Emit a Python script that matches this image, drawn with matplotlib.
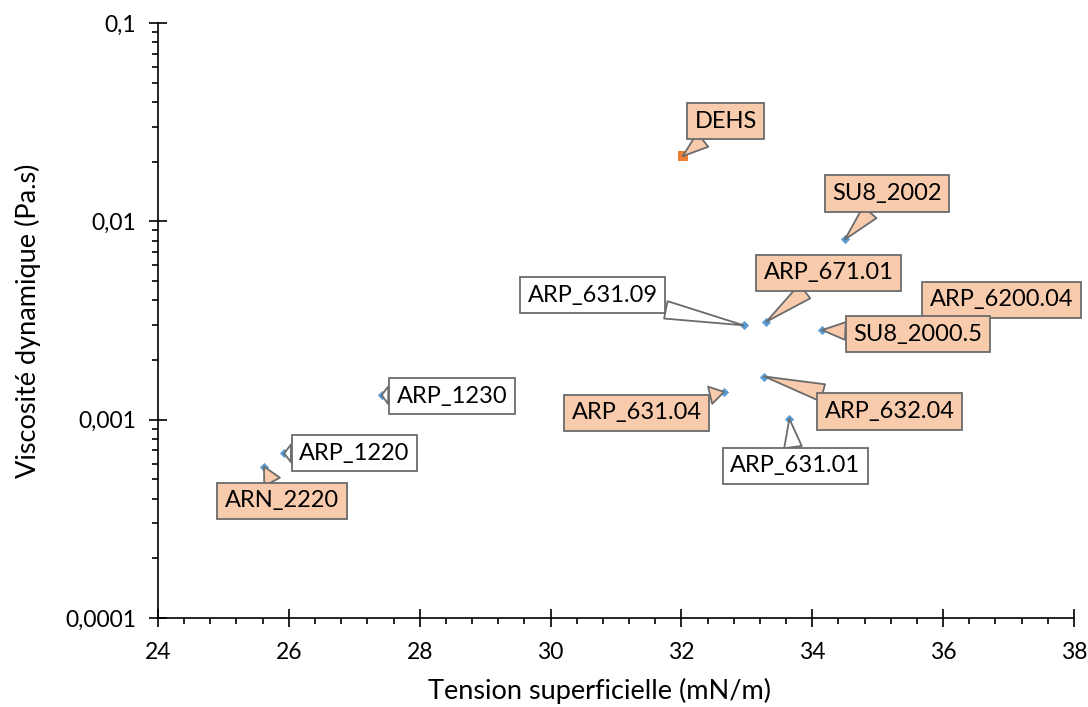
import matplotlib
matplotlib.use("Agg")
import matplotlib.pyplot as plt
from matplotlib.ticker import MultipleLocator, LogLocator, NullFormatter, FixedLocator, FixedFormatter

plt.rcParams['font.family'] = ['Lato', 'DejaVu Sans']

# données : tension superficielle (mN/m) et viscosité dynamique (Pa.s)
noms = ['ARP_1230', 'ARP_1220', 'ARN_2220', 'ARP_631.09', 'ARP_671.01', 'SU8_2002',
        'ARP_6200.04', 'SU8_2000.5', 'ARP_631.04', 'ARP_632.04', 'ARP_631.01']
tension = [27.42, 25.93, 25.62, 32.95, 33.30, 34.50, 35.55, 34.15, 32.65, 33.27, 33.65]
viscosite = [0.00133, 0.000676, 0.00058, 0.00299, 0.00312, 0.0081,
             0.00298, 0.00283, 0.00138, 0.00165, 0.00101]
surligne = [False, False, True, False, True, True, True, True, True, True, False]

nom_ref = 'DEHS'
tension_ref = [32.02]
viscosite_ref = [0.0213]

y_ticks = [0.0001, 0.001, 0.01, 0.1]
y_labels = ['0,0001', '0,001', '0,01', '0,1']

# décalage des étiquettes (pixels)
decalages = {
    'ARP_1230': (70, -1), 'ARP_1220': (70, 0), 'ARN_2220': (18, -34),
    'ARP_631.09': (-151, 30), 'ARP_671.01': (62, 49), 'SU8_2002': (42, 46),
    'ARP_6200.04': (88, 26), 'SU8_2000.5': (96, -4), 'ARP_631.04': (-87, -21),
    'ARP_632.04': (125, -35), 'ARP_631.01': (6, -47), 'DEHS': (43, 35),
}

fig = plt.figure(figsize=(10.88, 7.07), dpi=100)
ax = fig.add_axes([0.1452, 0.1259, 0.9871 - 0.1452, 0.9675 - 0.1259])

ax.scatter(tension, viscosite, marker='D', s=22, color='#5B9BD5', zorder=3, linewidths=0)
ax.scatter(tension_ref, viscosite_ref, marker='s', s=45, color='#ED7D31', zorder=3, linewidths=0)

ax.set_yscale('log')
ax.set_xlim(24, 38)
ax.set_ylim(0.0001, 0.1)

def etiquette(nom, x, y, orange):
    fc = '#F8CBAD' if orange else 'white'
    ax.annotate(nom, xy=(x, y), xytext=decalages[nom], textcoords='offset pixels',
                ha='center', va='center', fontsize=17, zorder=4,
                bbox=dict(boxstyle='square,pad=0.32', fc=fc, ec='#6b6b6b', lw=1.3),
                arrowprops=dict(arrowstyle='wedge,tail_width=0.75,shrink_factor=0.5',
                                fc=fc, ec='#6b6b6b', lw=1.3, shrinkA=0, shrinkB=0))

for nom, x, y, s in zip(noms, tension, viscosite, surligne):
    etiquette(nom, x, y, s)
etiquette(nom_ref, tension_ref[0], viscosite_ref[0], True)

# axes style Excel
for s in ['top', 'right']:
    ax.spines[s].set_visible(False)
for s in ['left', 'bottom']:
    ax.spines[s].set_linewidth(1.2)

ax.xaxis.set_major_locator(MultipleLocator(2))
ax.xaxis.set_minor_locator(MultipleLocator(0.4))
ax.yaxis.set_major_locator(FixedLocator(y_ticks))
ax.yaxis.set_major_formatter(FixedFormatter(y_labels))
ax.yaxis.set_minor_locator(LogLocator(base=10, subs=range(2, 10)))
ax.yaxis.set_minor_formatter(NullFormatter())

ax.tick_params(which='major', direction='inout', length=13, width=1.2, labelsize=16.5)
ax.tick_params(which='minor', direction='out', length=4.5, width=1.2)
ax.tick_params(axis='x', which='major', pad=11)
ax.tick_params(axis='y', which='major', pad=9)

ax.set_xlabel('Tension superficielle (mN/m)', fontsize=19.5)
ax.set_ylabel('Viscosité dynamique (Pa.s)', fontsize=19.5)
ax.xaxis.set_label_coords(0.4825, -0.1)
ax.yaxis.set_label_coords(-0.128, 0.5)

fig.savefig('out.png', dpi=100)
